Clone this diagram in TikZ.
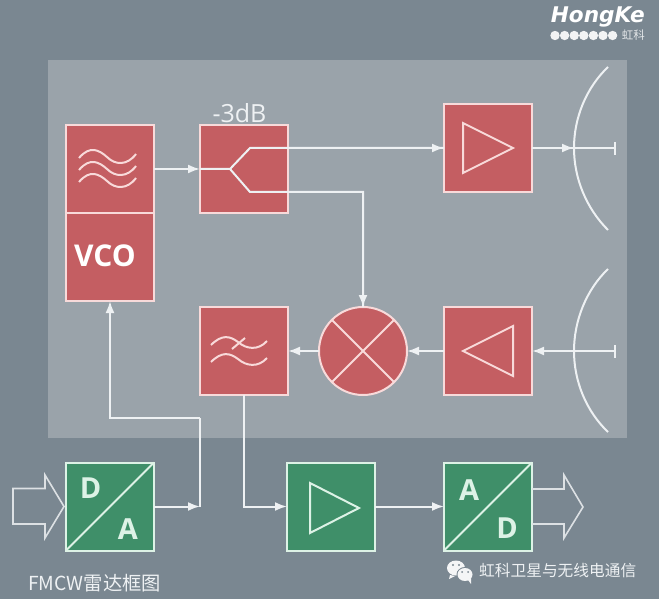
\documentclass[tikz,border=0pt]{standalone}
\usepackage{fontspec}
\usepackage{xcolor}
\usetikzlibrary{arrows.meta,positioning,calc}
\setmainfont{Open Sans}
\newfontfamily\cjkfont{Noto Sans CJK SC}
\newfontfamily\logofont{DejaVu Sans}
\definecolor{RadarBack}{HTML}{7A8791}
\definecolor{RadarPanel}{HTML}{9AA3AA}
\definecolor{RadarRed}{HTML}{C45E62}
\definecolor{RadarGreen}{HTML}{3F8F69}
\definecolor{RadarPink}{HTML}{F8DADA}
\definecolor{RadarMint}{HTML}{DDF2E6}
\definecolor{RadarLine}{HTML}{EEF1F3}

\begin{document}
\begin{tikzpicture}[
  x=1pt, y=-1pt,
  node distance=46pt,
  redbox/.style={draw=RadarPink, fill=RadarRed, line width=2pt, minimum size=88pt, outer sep=0pt, inner sep=0pt, text=white, font=\fontsize{30}{32}\selectfont\bfseries},
  greenbox/.style={draw=RadarMint, fill=RadarGreen, line width=2pt, minimum size=88pt, outer sep=0pt, inner sep=0pt},
  letter/.style={text=RadarMint, inner sep=0pt, font=\fontsize{29}{31}\selectfont\bfseries},
  arrow/.style={-{Latex[length=12pt,width=9pt]}, line width=2pt, draw=RadarLine},
  wire/.style={line width=2pt, draw=RadarLine},
  redsym/.style={line width=2pt, draw=RadarPink, line join=miter},
  greensym/.style={line width=2pt, draw=RadarMint},
  hollow/.style={line width=1.6pt, draw=RadarLine!85!RadarBack, line join=miter},
  dish/.style={line width=2pt, draw=RadarLine}
]
  \fill[RadarBack] (0,0) rectangle (659,599);
  \useasboundingbox (0,0) rectangle (659,599);
  \fill[RadarPanel] (48,60.5) rectangle (627,438);

  % top row
  \node[redbox] (filter) at (110,169) {};
  \node[redbox, below=0pt of filter] (vco) {\hspace*{-10pt}\raisebox{3pt}{VCO}};
  \node[redbox, right=46pt of filter] (split) {};
  \node[redbox] (amptx) at (488,148) {};
  \node[above=2pt of split, xshift=-4.5pt, text=RadarLine, inner sep=0pt, font=\fontsize{25}{27}\selectfont] (loss) {-3dB};

  % second row
  \node[redbox] (amprx) at (488,351) {};
  \node[redbox, circle, minimum size=88pt] (mixer) at (363,351) {};
  \node[redbox] (lowpass) at (244,351) {};

  % bottom row
  \node[greenbox] (dac) at (110,506.5) {};
  \node[greenbox] (ampout) at (331,506.5) {};
  \node[greenbox] (adc) at (488,506.5) {};

  % symbols in the boxes
  \foreach \dy in {0,12,24}
    \draw[redsym] (79,158+\dy) .. controls (90,145+\dy) and (99,150+\dy) .. (107,157+\dy) .. controls (115,165+\dy) and (127,166+\dy) .. (136,154+\dy);
  \foreach \dy in {0,17}
    \draw[redsym] (211,345+\dy) .. controls (222,334+\dy) and (230,336+\dy) .. (238,342+\dy) .. controls (246,349+\dy) and (258,351+\dy) .. (267,341+\dy);
  \draw[redsym] (232,349) -- (245,338);
  \draw[redsym] (463,123) -- (513,148) -- (463,173) -- cycle;
  \draw[redsym] (513,326) -- (463,351) -- (513,376) -- cycle;
  \draw[redsym] (mixer.45) -- (mixer.225);
  \draw[redsym] (mixer.135) -- (mixer.315);
  \draw[greensym] (310,483) -- (359,508) -- (310,533) -- cycle;
  \draw[greensym] (dac.south west) -- (dac.north east);
  \draw[greensym] (adc.south west) -- (adc.north east);
  \node[letter] (dacd) at (90.5,488) {D};
  \node[letter] (daca) at (128,529) {A};
  \node[letter] (adca) at (469,490) {A};
  \node[letter] (adcd) at (507,528) {D};

  % splitter
  \coordinate (fork) at (230,169);
  \coordinate (forkup) at (250,148);
  \coordinate (forkdown) at (250,192);
  \draw[wire] (split.west) -- (fork) -- (forkup) -- (amptx.west);
  \draw[wire] (fork) -- (forkdown) -| (mixer.north);

  % connectors
  \draw[arrow] (filter) -- (split);
  \draw[arrow] (forkup -| split.east) -- (amptx.west);
  \draw[arrow] (forkdown -| mixer.north) -- (mixer.north);
  \draw[arrow] (amprx) -- (mixer);
  \draw[arrow] (mixer) -- (lowpass);
  \coordinate (dacturn) at (200,506.5);
  \coordinate (vcoturn) at (200,418);
  \draw[arrow] (dac) -- (dacturn);
  \draw[wire] (dacturn) -- (vcoturn);
  \draw[arrow] (vcoturn) -| (vco.south);
  \draw[arrow] (lowpass.south) |- (ampout.west);
  \draw[arrow] (ampout) -- (adc);

  % antennas
  \coordinate (feedtx) at (615,148);
  \coordinate (feedrx) at (615,351);
  \draw[arrow] (amptx.east) -- (574,148);
  \draw[wire] (amptx.east) -- (feedtx);
  \draw[arrow] (feedrx) -- (amprx.east);
  \draw[dish] (608,67) .. controls (586,88) and (574,118) .. (574,148) .. controls (574,178) and (586,208) .. (608,230);
  \draw[dish] (608,269) .. controls (586,290) and (574,321) .. (574,351) .. controls (574,381) and (586,411) .. (608,432);
  \draw[dish] (615,142) -- (615,155);
  \draw[dish] (615,345) -- (615,358);

  % data arrows
  \draw[hollow] (13,488.5) -- (45,488.5) -- (45,475) -- (64,506.5) -- (45,538) -- (45,524) -- (13,524) -- cycle;
  \draw[hollow] (adc.east |- 0,489) -- (564,489) -- (564,475) -- (583,507) -- (564,538) -- (564,524) -- (adc.east |- 0,524);

  % texts
  \node[text=RadarLine, inner sep=0pt, anchor=west, font=\cjkfont\fontsize{19.3}{21}\selectfont] (caption) at (28,583) {FMCW雷达框图};
  \node[text=RadarLine, inner sep=0pt, anchor=west, font=\cjkfont\fontsize{15.7}{18}\selectfont] (account) at (479,571) {虹科卫星与无线电通信};

  % logo
  \node[text=white, inner sep=0pt, anchor=east, font=\logofont\bfseries\itshape\fontsize{21.6}{23}\selectfont] (logo) at (645,17) {HongKe};
  \foreach \i in {0,...,6}
    \fill[white!90!RadarBack] (555+\i*9.6,35.5) circle (4.7);
  \node[text=white!80!RadarBack, inner sep=0pt, anchor=east, font=\cjkfont\fontsize{11.5}{13}\selectfont] (logocn) at (645,35.5) {虹科};

  % chat icon
  \fill[white!92!RadarBack] (456,568) ellipse (9 and 7.5);
  \fill[white!92!RadarBack] (450,575) -- (449,579) -- (455,576) -- cycle;
  \fill[RadarBack] (465,574.5) ellipse (8.5 and 7.5);
  \fill[white!92!RadarBack] (465,574.5) ellipse (7.5 and 6.5);
  \fill[white!92!RadarBack] (468,580) -- (471,584) -- (471,578) -- cycle;
  \foreach \ex/\ey in {453/565,459/565}
    \fill[RadarBack] (\ex,\ey) circle (1.1);
  \foreach \ex/\ey in {462/572,468/572}
    \fill[RadarBack] (\ex,\ey) circle (1);
\end{tikzpicture}
\end{document}
